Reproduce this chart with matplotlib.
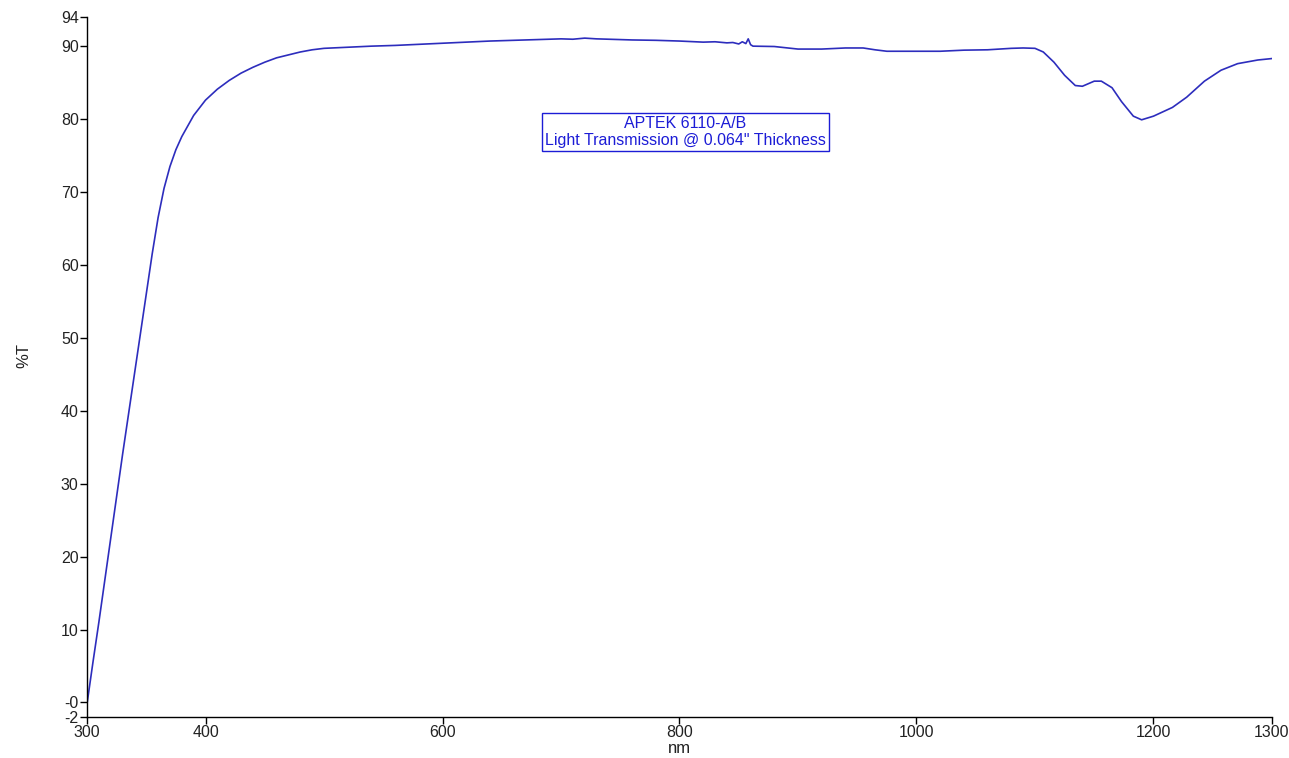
import matplotlib
matplotlib.use("Agg")
import matplotlib.pyplot as plt

wavelength = [300, 305, 310, 320, 330, 340, 350, 355, 360, 365, 370, 375, 380, 390, 400,
              410, 420, 430, 440, 450, 460, 470, 480, 490, 500, 520, 540, 560, 580, 600,
              620, 640, 660, 680, 700, 710, 720, 730, 740, 760, 780, 800, 820, 830, 840,
              845, 850, 853, 856, 858, 860, 862, 880, 900, 920, 940, 955, 965, 975, 1000,
              1020, 1040, 1060, 1080, 1090, 1100, 1107, 1116, 1125, 1134, 1140, 1150, 1156,
              1165, 1173, 1183, 1190, 1200, 1216, 1228, 1243, 1257, 1271, 1288, 1300]
transmission = [-0.2, 5.5, 11.0, 22.5, 34.0, 45.0, 56.0, 61.5, 66.5, 70.5, 73.5, 75.8, 77.6, 80.5, 82.6,
                84.1, 85.3, 86.3, 87.1, 87.8, 88.4, 88.8, 89.2, 89.5, 89.7, 89.85, 90.0, 90.1, 90.25, 90.4,
                90.55, 90.7, 90.8, 90.9, 91.0, 90.95, 91.1, 91.0, 90.95, 90.85, 90.8, 90.7, 90.55, 90.6, 90.45,
                90.5, 90.3, 90.6, 90.35, 91.0, 90.2, 90.0, 89.95, 89.6, 89.6, 89.75, 89.75, 89.5, 89.3, 89.3,
                89.3, 89.45, 89.5, 89.7, 89.75, 89.7, 89.2, 87.8, 86.0, 84.6, 84.5, 85.2, 85.2,
                84.3, 82.4, 80.4, 79.9, 80.4, 81.6, 83.0, 85.2, 86.7, 87.6, 88.1, 88.3]

x_ticks = [300, 400, 600, 800, 1000, 1200, 1300]
y_ticks = [-2, 0, 10, 20, 30, 40, 50, 60, 70, 80, 90, 94]
y_tick_labels = ["-2", "-0", "10", "20", "30", "40", "50", "60", "70", "80", "90", "94"]
annotation = "APTEK 6110-A/B\nLight Transmission @ 0.064\" Thickness"

tick_font = "Liberation Sans"

fig = plt.figure(figsize=(12.89, 7.58), dpi=100)
ax = fig.add_axes([0.0675, 0.054, 0.9193, 0.9236])

ax.plot(wavelength, transmission, color="#2d2dbd", linewidth=1.2)

ax.set_xlim(300, 1300)
ax.set_ylim(-2, 94)
ax.set_xticks(x_ticks)
ax.set_xticklabels([str(t) for t in x_ticks])
ax.set_yticks(y_ticks)
ax.set_yticklabels(y_tick_labels)

for s in ["top", "right"]:
    ax.spines[s].set_visible(False)
for s in ["left", "bottom"]:
    ax.spines[s].set_linewidth(1.0)
    ax.spines[s].set_color("black")

ax.tick_params(direction="out", length=5, width=1, colors="black", labelsize=11.5, pad=1)
for lab in ax.get_xticklabels() + ax.get_yticklabels():
    lab.set_fontfamily(tick_font)
    lab.set_color("#222222")

ax.set_xlabel("nm", fontsize=12, family=tick_font, color="#222222")
ax.xaxis.set_label_coords(0.4996, -0.034)
ax.set_ylabel("%T", fontsize=12, family=tick_font, color="#222222")
ax.yaxis.set_label_coords(-0.047, 0.517)

ax.text(805, 78.2, annotation, ha="center", va="center", fontsize=11.5,
        family="Liberation Sans", color="#1c1cd6", linespacing=1.15,
        bbox=dict(boxstyle="square,pad=0.2", facecolor="white", edgecolor="#1c1cd6", linewidth=1))

fig.savefig("out.png", dpi=100)
